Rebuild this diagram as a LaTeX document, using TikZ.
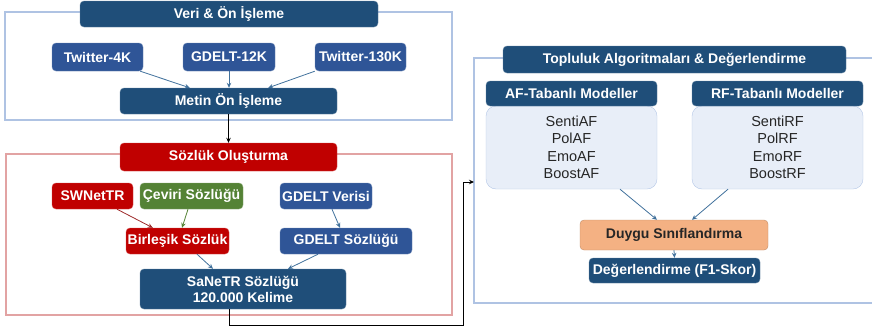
\documentclass[tikz,border=0pt]{standalone}
\usepackage{fontspec}
\setmainfont{Liberation Sans}
\usetikzlibrary{arrows.meta,calc}
\definecolor{navy}{HTML}{1F4E79}
\definecolor{midblue}{HTML}{2F5597}
\definecolor{darkred}{HTML}{C00000}
\definecolor{leaf}{HTML}{548235}
\definecolor{peach}{HTML}{F4B183}
\definecolor{paleblue}{HTML}{E8EEF8}
\definecolor{paleedge}{HTML}{B4C7E7}
\definecolor{frameblue}{HTML}{AFC3E3}
\definecolor{framered}{HTML}{E2A3A3}
\definecolor{steel}{HTML}{41719C}
\definecolor{wine}{HTML}{9E2A2A}
\begin{document}
\begin{tikzpicture}[x=1pt,y=-1pt,
  box/.style={rectangle,rounded corners=4pt,inner sep=0pt,text=white,
    font=\fontsize{14}{16}\selectfont\bfseries,align=center},
  hdr/.style={box,fill=navy,draw=navy!70!white},
  src/.style={box,fill=midblue,draw=midblue!70!white},
  redbox/.style={box,fill=darkred,draw=darkred!70!white},
  greenbox/.style={box,fill=leaf,draw=leaf!70!white},
  listbox/.style={rectangle,rounded corners=10pt,inner sep=0pt,fill=paleblue,draw=paleedge,
    align=center,text=black!85,font=\fontsize{14.5}{17.5}\selectfont},
  flow/.style={-{Stealth[length=5pt,width=4.5pt]},line width=0.8pt,draw=steel},
  main/.style={-{Stealth[length=5pt,width=4.5pt]},line width=0.8pt,draw=black}]
\useasboundingbox (0,0) rectangle (872,330);

% section frames
\draw[frameblue,line width=1.2pt] (5,12) rectangle (452,120);
\draw[framered,line width=1.2pt] (6,154) rectangle (452,315);
\draw[frameblue,line width=1.2pt] (872,58) -- (474,58) -- (474,303) -- (872,303);
\coordinate (entry) at (474,182);
\coordinate (bend) at (463,325);

% data and preprocessing
\node[hdr,minimum width=298pt,minimum height=26pt] (veri) at (229,14) {Veri \& Ön İşleme};
\node[src,minimum width=91pt,minimum height=28pt] (tw4) at (97.5,57) {Twitter-4K};
\node[src,minimum width=92pt,minimum height=28pt] (gd12) at (229,57) {GDELT-12K};
\node[src,minimum width=91pt,minimum height=28pt] (tw130) at (360.5,57) {Twitter-130K};
\node[hdr,minimum width=217pt,minimum height=26pt] (metin) at (228.5,101) {Metin Ön İşleme};

% lexicon construction
\node[redbox,minimum width=217pt,minimum height=28pt] (sozluk) at (228.5,157) {Sözlük Oluşturma};
\node[redbox,minimum width=81pt,minimum height=26pt] (swn) at (92.5,196) {SWNetTR};
\node[greenbox,minimum width=103pt,minimum height=26pt] (ceviri) at (191.5,196) {Çeviri Sözlüğü};
\node[src,minimum width=92pt,minimum height=26pt] (gdv) at (326,196) {GDELT Verisi};
\node[redbox,minimum width=103pt,minimum height=26pt] (birl) at (177.5,241) {Birleşik Sözlük};
\node[src,minimum width=132pt,minimum height=26pt] (gdsoz) at (346,241) {GDELT Sözlüğü};
\node[hdr,minimum width=206pt,minimum height=40pt] (sanetr) at (243,289) {SaNeTR Sözlüğü\\120.000 Kelime};

% ensemble algorithms and evaluation
\node[hdr,minimum width=343pt,minimum height=27pt] (topl) at (674.5,59.5) {Topluluk Algoritmaları \& Değerlendirme};
\node[listbox,minimum width=171pt,minimum height=83pt] (afb) at (571.5,147.5) {SentiAF\\PolAF\\EmoAF\\BoostAF};
\node[listbox,minimum width=171pt,minimum height=83pt] (rfb) at (777.5,147.5) {SentiRF\\PolRF\\EmoRF\\BoostRF};
\node[hdr,minimum width=171pt,minimum height=25pt] (afh) at (571.5,93.5) {AF-Tabanlı Modeller};
\node[hdr,minimum width=171pt,minimum height=25pt] (rfh) at (777.5,93.5) {RF-Tabanlı Modeller};
\node[box,fill=peach,draw=peach!80!black,text=black!85,minimum width=188pt,minimum height=30pt] (duygu) at (674,235) {Duygu Sınıflandırma};
\node[hdr,minimum width=171pt,minimum height=25pt] (deger) at (674.5,270.5) {Değerlendirme (F1-Skor)};

% connectors
\draw[flow] ($(tw4.south east)+(-3,0)$) -- ($(metin.north west)+(70,0)$);
\draw[flow] (gd12.south) -- (gd12.south |- metin.north);
\draw[flow] (tw130.south west) -- ($(metin.north east)+(-69,0)$);
\draw[main] (metin.south) -- (sozluk.north);

\draw[flow,draw=wine] ($(swn.south)+(24.5,0)$) -- ($(birl.north west)+(27,0)$);
\draw[flow,draw=leaf] ($(ceviri.south)+(-3.5,0)$) -- ($(birl.north)+(4.5,0)$);
\draw[flow] ($(gdv.south)+(6,0)$) -- ($(gdsoz.north)+(-6,0)$);
\draw[flow] ($(birl.south)+(19.5,0)$) -- ($(sanetr.north)+(-30,0)$);
\draw[flow] ($(gdsoz.south)+(-28,0)$) -- ($(sanetr.north)+(45,0)$);

\draw[main,line width=0.9pt] ($(sanetr.south)+(-14,0)$) |- (bend) |- (entry);

\draw[flow] ($(afb.south)+(48.5,0)$) -- ($(duygu.north)+(-17,0)$);
\draw[flow] ($(rfb.south)+(-49.5,0)$) -- ($(duygu.north)+(18,0)$);
\draw[flow] (duygu.south) -- (deger.north);
\end{tikzpicture}
\end{document}
